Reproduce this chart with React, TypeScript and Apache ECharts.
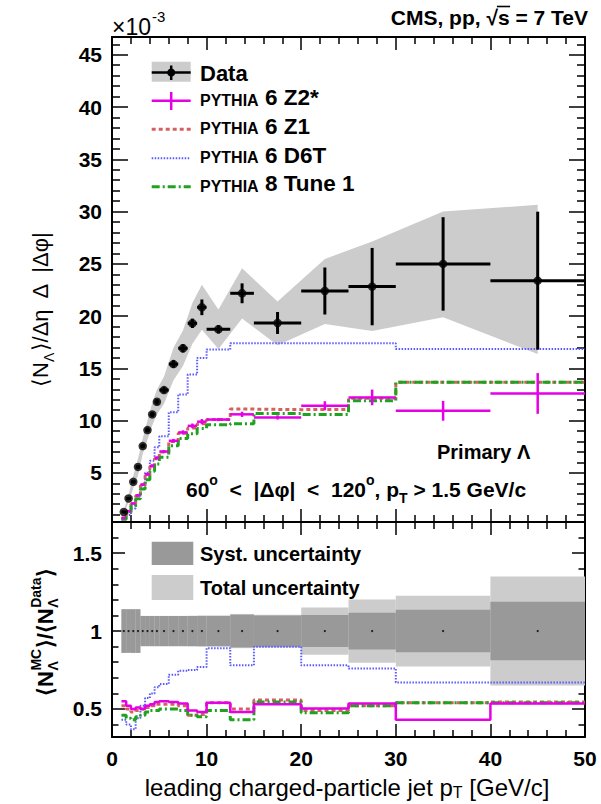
import React, { useEffect, useRef } from "react";
import * as echarts from "echarts";

// ---------- data ----------
const binLo = [1, 1.5, 2, 2.5, 3, 3.5, 4, 4.5, 5, 6, 7, 8, 9, 10, 12.5, 15, 20, 25, 30, 40];
const binHi = [1.5, 2, 2.5, 3, 3.5, 4, 4.5, 5, 6, 7, 8, 9, 10, 12.5, 15, 20, 25, 30, 40, 50];
const binCenter = [1.25, 1.75, 2.25, 2.75, 3.25, 3.75, 4.25, 4.75, 5.5, 6.5, 7.5, 8.5, 9.5, 11.25, 13.75, 17.5, 22.5, 27.5, 35, 45];

const dataVal = [1.26, 2.55, 4.14, 5.57, 7.56, 9.09, 10.59, 11.8, 12.92, 15.41, 16.92, 19.31, 20.84, 18.74, 22.18, 19.34, 22.4, 22.82, 24.99, 23.39];
const dataStat = [0.1, 0.12, 0.15, 0.18, 0.2, 0.22, 0.25, 0.27, 0.3, 0.35, 0.4, 0.45, 0.75, 0.4, 0.95, 1.05, 2.25, 3.7, 4.47, 6.6];
const bandUp = [1.44, 2.92, 4.74, 6.38, 8.32, 10.0, 11.65, 12.98, 14.22, 16.96, 18.62, 21.26, 22.99, 20.64, 24.58, 21.4, 25.47, 27.13, 30.0, 30.64];
const bandLo = [1.08, 2.18, 3.54, 4.76, 6.8, 8.18, 9.53, 10.62, 11.62, 13.86, 15.22, 17.36, 18.69, 16.84, 19.78, 17.2, 19.24, 18.57, 19.89, 16.37];

const z2Val = [0.69, 1.34, 2.07, 2.84, 3.88, 4.86, 5.67, 6.43, 7.04, 8.07, 8.87, 9.5, 9.9, 10.1, 10.6, 10.3, 11.42, 12.22, 10.94, 12.6];
const z2Err = [0.08, 0.1, 0.1, 0.12, 0.12, 0.14, 0.15, 0.15, 0.15, 0.18, 0.2, 0.22, 0.25, 0.15, 0.25, 0.2, 0.43, 0.75, 0.95, 1.95];
const z1Val = [0.66, 1.3, 2.03, 2.8, 3.8, 4.75, 5.6, 6.35, 7.0, 8.0, 8.8, 9.3, 9.7, 10.1, 11.1, 11.05, 11.07, 12.13, 13.66, 13.66];
const tune1Val = [0.57, 1.15, 1.8, 2.52, 3.45, 4.35, 5.15, 5.85, 6.5, 7.6, 8.3, 8.75, 9.25, 9.6, 9.7, 10.69, 10.59, 11.9, 13.66, 13.66];
const d6tVal = [0.53, 0.97, 1.6, 2.5, 3.8, 5.0, 6.15, 7.45, 8.5, 10.8, 12.5, 14.4, 16.0, 16.8, 17.39, 17.39, 17.39, 17.39, 16.85, 16.85];

const rZ2 = [0.55, 0.52, 0.5, 0.51, 0.5, 0.52, 0.53, 0.545, 0.55, 0.545, 0.535, 0.49, 0.48, 0.54, 0.48, 0.53, 0.503, 0.535, 0.43, 0.535];
const rZ1 = [0.52, 0.5, 0.48, 0.49, 0.5, 0.51, 0.52, 0.53, 0.53, 0.53, 0.52, 0.46, 0.465, 0.54, 0.5, 0.557, 0.49, 0.52, 0.54, 0.545];
const rTune1 = [0.46, 0.44, 0.43, 0.45, 0.46, 0.48, 0.49, 0.49, 0.5, 0.5, 0.49, 0.46, 0.45, 0.49, 0.43, 0.545, 0.475, 0.52, 0.54, 0.54];
const rD6T = [0.43, 0.4, 0.37, 0.44, 0.52, 0.57, 0.6, 0.64, 0.66, 0.72, 0.745, 0.75, 0.77, 0.89, 0.78, 0.9, 0.78, 0.76, 0.67, 0.67];
const ratioSyst = [0.14, 0.14, 0.14, 0.14, 0.097, 0.097, 0.097, 0.097, 0.097, 0.097, 0.097, 0.097, 0.097, 0.097, 0.105, 0.1, 0.103, 0.118, 0.136, 0.188];
const ratioTotal = [0.14, 0.14, 0.14, 0.14, 0.097, 0.097, 0.097, 0.097, 0.097, 0.097, 0.097, 0.098, 0.1, 0.1, 0.11, 0.105, 0.152, 0.203, 0.227, 0.35];

const xTicks = [0, 10, 20, 30, 40, 50];
const yTopMajor = [5, 10, 15, 20, 25, 30, 35, 40, 45];
const yTopMinor = [1, 2, 3, 4, 6, 7, 8, 9, 11, 12, 13, 14, 16, 17, 18, 19, 21, 22, 23, 24, 26, 27, 28, 29, 31, 32, 33, 34, 36, 37, 38, 39, 41, 42, 43, 44, 46];
const yLowMajor = [0.5, 1, 1.5];
const yLowMinor = [0.4, 0.6, 0.7, 0.8, 0.9, 1.1, 1.2, 1.3, 1.4, 1.6];

// ---------- styles ----------
const FONT = "'Liberation Sans', Arial, Helvetica, sans-serif";
const MAG = "#e600e6";
const RED = "#d66060";
const BLUE = "#5a5aff";
const GREEN = "#1fa31f";

const steps = (vals: number[]) => vals.flatMap((v, i) => [[binLo[i], v], [binHi[i], v]]);

const xAx = (grid: number, pos: string, labels: boolean) => ({
  type: "value", gridIndex: grid, position: pos, min: 0, max: 50, interval: 10,
  axisLine: { show: true, onZero: false, lineStyle: { color: "#000", width: 2 } },
  axisTick: { show: true, inside: true, length: 13, lineStyle: { color: "#000", width: 1.5 } },
  minorTick: { show: true, splitNumber: 5, length: 7, lineStyle: { color: "#000", width: 1.5 } },
  splitLine: { show: false }, minorSplitLine: { show: false },
  axisLabel: labels
    ? { show: true, margin: 11, fontSize: 21, fontWeight: "bold", color: "#000", fontFamily: FONT, customValues: xTicks }
    : { show: false },
});

const yAx = (grid: number, pos: string, min: number, max: number, ticks: number[], len: number, labels: boolean, line: boolean) => ({
  type: "value", gridIndex: grid, position: pos, min, max,
  axisLine: { show: line, onZero: false, lineStyle: { color: "#000", width: 2 } },
  axisTick: { show: true, inside: true, length: len, customValues: ticks, lineStyle: { color: "#000", width: 1.5 } },
  axisLabel: labels
    ? { show: true, customValues: ticks, margin: 10, fontSize: 21, fontWeight: "bold", color: "#000", fontFamily: FONT }
    : { show: false },
  splitLine: { show: false },
});

const errRender = (color: string, width: number) => (params: any, api: any) => {
  const y = api.value(1);
  const a = api.coord([api.value(2), y]);
  const b = api.coord([api.value(3), y]);
  const t = api.coord([api.value(0), api.value(5)]);
  const d = api.coord([api.value(0), api.value(4)]);
  return {
    type: "group",
    children: [
      { type: "line", shape: { x1: a[0], y1: a[1], x2: b[0], y2: b[1] }, style: { stroke: color, lineWidth: width } },
      { type: "line", shape: { x1: t[0], y1: t[1], x2: d[0], y2: d[1] }, style: { stroke: color, lineWidth: width } },
    ],
  };
};

const rectRender = (color: string) => (params: any, api: any) => {
  const a = api.coord([api.value(0), api.value(3)]);
  const b = api.coord([api.value(1), api.value(2)]);
  return { type: "rect", shape: { x: a[0], y: a[1], width: b[0] - a[0], height: b[1] - a[1] }, style: { fill: color } };
};

const stepLine = (vals: number[], color: string, width: number, dash: any, xi: number, yi: number, z: number) => ({
  type: "line", xAxisIndex: xi, yAxisIndex: yi, data: steps(vals), showSymbol: false, symbol: "none",
  lineStyle: { color, width, type: dash }, z, silent: true, clip: true,
});

const richBase = (size: number, weight: string, lh = 32) => ({
  m: { fontSize: size, fontWeight: weight, fontFamily: FONT, lineHeight: lh, verticalAlign: "middle", color: "#000" },
  sub: { fontSize: Math.round(size * 0.65), fontWeight: weight, fontFamily: FONT, lineHeight: 14, verticalAlign: "bottom", color: "#000" },
  sup: { fontSize: Math.round(size * 0.65), fontWeight: weight, fontFamily: FONT, lineHeight: 14, verticalAlign: "top", color: "#000" },
});

const txt = (x: number, y: number, text: string, size: number, weight: string, align = "left", extra: any = {}) => ({
  type: "text", x, y, silent: true,
  style: { text, fontSize: size, fontWeight: weight, fontFamily: FONT, fill: "#000", align, verticalAlign: "middle", ...extra },
});

const line = (x1: number, y1: number, x2: number, y2: number, stroke: string, lineWidth: number, lineDash?: number[]) => ({
  type: "line", silent: true, shape: { x1, y1, x2, y2 }, style: { stroke, lineWidth, lineDash },
});

function buildGraphics() {
  const ctx = document.createElement("canvas").getContext("2d") as CanvasRenderingContext2D;
  const measure = (t: string, size: number, weight: string) => {
    ctx.font = `${weight} ${size}px ${FONT}`;
    return ctx.measureText(t).width;
  };

  // overline for sqrt(s)
  const tailW = measure(" = 7 TeV", 21, "bold");
  const sW = measure("s", 21, "bold");
  const sEnd = 588 - tailW;
  const sStart = sEnd - sW;

  // ratio title with stacked super/subscripts
  const BIG = 22, SMALL = 14;
  const parts: any[] = [
    { t: "⟨N" },
    { sup: "MC", sub: "Λ" },
    { t: "⟩/⟨N" },
    { sup: "Data", sub: "Λ" },
    { t: "⟩" },
  ];
  const widths = parts.map((p) =>
    p.t ? measure(p.t, BIG, "bold") : Math.max(measure(p.sup, SMALL, "bold"), measure(p.sub, SMALL, "bold")) + 1
  );
  const total = widths.reduce((a, b) => a + b, 0);
  let cx = -total / 2;
  const kids: any[] = [];
  parts.forEach((p, i) => {
    if (p.t) {
      kids.push(txt(cx, 0, p.t, BIG, "bold"));
    } else {
      kids.push(txt(cx + 0.5, -9, p.sup, SMALL, "bold"));
      kids.push(txt(cx + 0.5, 8, p.sub, SMALL, "bold"));
    }
    cx += widths[i];
  });

  const legendRows = [
    { y: 100.7, num: "6 Z2*" },
    { y: 129.3, num: "6 Z1" },
    { y: 158.3, num: "6 D6T" },
    { y: 186.7, num: "8 Tune 1" },
  ];
  const legendTexts: any[] = [];
  legendRows.forEach((r) => {
    legendTexts.push(txt(200, r.y + 7.3, "PYTHIA", 16, "bold", "left", { verticalAlign: "bottom" }));
    legendTexts.push(txt(265, r.y + 8.3, r.num, 22.5, "bold", "left", { verticalAlign: "bottom" }));
  });

  return [
    // header
    txt(112, 27, "×10", 23, "normal"),
    txt(152, 16, "-3", 15, "normal"),
    txt(588, 17.5, "CMS, pp, √s = 7 TeV", 21, "bold", "right"),
    line(sStart - 1, 6.5, sEnd + 0.5, 6.5, "#000", 1.6),
    // legend top
    { type: "rect", silent: true, shape: { x: 151.7, y: 61.7, width: 39, height: 20 }, style: { fill: "#cccccc" } },
    line(151.7, 72.5, 190.7, 72.5, "#000", 2.5),
    line(171.2, 65.5, 171.2, 80, "#000", 2.5),
    { type: "circle", silent: true, shape: { cx: 171.2, cy: 72.5, r: 4 }, style: { fill: "#000" } },
    txt(200, 73, "Data", 22, "bold"),
    line(151.7, 100.7, 190.7, 100.7, MAG, 2.5),
    line(171.2, 92, 171.2, 110, MAG, 2.5),
    line(151.7, 129.3, 190.7, 129.3, RED, 3, [4, 3]),
    line(151.7, 158.3, 190.7, 158.3, BLUE, 2, [1.5, 1.5]),
    line(151.7, 186.7, 190.7, 186.7, GREEN, 3, [8, 3, 2, 3]),
    ...legendTexts,
    // annotations
    txt(437, 452, "Primary Λ", 20, "bold"),
    txt(186, 489, "{m|60}{sup|o}{m|  <  |Δφ|  <  120}{sup|o}{m|, p}{sub|T}{m| > 1.5 GeV/c}", 21, "bold", "left", { rich: richBase(21, "bold") }),
    // lower legend
    { type: "rect", silent: true, shape: { x: 151.7, y: 541.7, width: 41.6, height: 23.3 }, style: { fill: "#999999" } },
    txt(200, 553.5, "Syst. uncertainty", 20, "bold"),
    { type: "rect", silent: true, shape: { x: 151.7, y: 575, width: 41.6, height: 25 }, style: { fill: "#cccccc" } },
    txt(200, 587.5, "Total uncertainty", 20, "bold"),
    // axis titles
    txt(347, 787, "{m|leading charged-particle jet p}{sub|T}{m| [GeV/c]}", 24, "normal", "center", { rich: richBase(24, "normal", 26) }),
    { ...txt(40, 309, "{m|⟨N}{sub|Λ}{m|⟩/Δη  Δ  |Δφ|}", 22, "normal", "center", { rich: richBase(22, "normal") }), rotation: Math.PI / 2 },
    { type: "group", x: 45, y: 632, rotation: Math.PI / 2, silent: true, children: kids },
  ];
}

function buildOption(): any {
  return {
    animation: false,
    backgroundColor: "#ffffff",
    grid: [
      { left: 112, top: 37, width: 473, height: 485 },
      { left: 112, top: 522, width: 473, height: 215 },
    ],
    xAxis: [xAx(0, "bottom", false), xAx(0, "top", false), xAx(1, "bottom", true), xAx(1, "top", false)],
    yAxis: [
      yAx(0, "left", 0.3, 46.7, yTopMajor, 16, true, true),
      yAx(0, "left", 0.3, 46.7, yTopMinor, 8, false, false),
      yAx(0, "right", 0.3, 46.7, yTopMajor, 16, false, true),
      yAx(0, "right", 0.3, 46.7, yTopMinor, 8, false, false),
      yAx(1, "left", 0.32, 1.7, yLowMajor, 13, true, true),
      yAx(1, "left", 0.32, 1.7, yLowMinor, 6.5, false, false),
      yAx(1, "right", 0.32, 1.7, yLowMajor, 13, false, true),
      yAx(1, "right", 0.32, 1.7, yLowMinor, 6.5, false, false),
    ],
    graphic: buildGraphics(),
    series: [
      {
        type: "custom", xAxisIndex: 0, yAxisIndex: 0, silent: true, z: 1, clip: true,
        data: [[binCenter[0], bandLo[0]]], encode: { x: 0, y: 1 },
        renderItem: (params: any, api: any) => {
          const pts: number[][] = [];
          binCenter.forEach((c, i) => pts.push(api.coord([c, bandUp[i]])));
          for (let i = binCenter.length - 1; i >= 0; i--) pts.push(api.coord([binCenter[i], bandLo[i]]));
          return { type: "polygon", shape: { points: pts }, style: { fill: "#cccccc" } };
        },
      },
      stepLine(d6tVal, BLUE, 2, [1.5, 1.5], 0, 0, 3),
      stepLine(z1Val, RED, 3, [4, 3], 0, 0, 3),
      stepLine(tune1Val, GREEN, 3, [8, 3, 2, 3], 0, 0, 4),
      {
        type: "custom", xAxisIndex: 0, yAxisIndex: 0, silent: true, z: 5, clip: true,
        data: binCenter.map((c, i) => [c, z2Val[i], binLo[i], binHi[i], z2Val[i] - z2Err[i], z2Val[i] + z2Err[i]]),
        encode: { x: [0, 2, 3], y: [1, 4, 5] },
        renderItem: errRender(MAG, 2.5),
      },
      {
        type: "custom", xAxisIndex: 0, yAxisIndex: 0, silent: true, z: 6, clip: true,
        data: binCenter.map((c, i) => [c, dataVal[i], binLo[i], binHi[i], dataVal[i] - dataStat[i], dataVal[i] + dataStat[i]]),
        encode: { x: [0, 2, 3], y: [1, 4, 5] },
        renderItem: errRender("#000", 3),
      },
      {
        type: "scatter", xAxisIndex: 0, yAxisIndex: 0, silent: true, z: 7,
        data: binCenter.map((c, i) => [c, dataVal[i]]), symbol: "circle", symbolSize: 8.5,
        itemStyle: { color: "#000" },
      },
      // lower panel
      {
        type: "custom", xAxisIndex: 2, yAxisIndex: 4, silent: true, z: 1, clip: true,
        data: binLo.map((lo, i) => [lo, binHi[i], 1 - ratioTotal[i], 1 + ratioTotal[i]]),
        encode: { x: [0, 1], y: [2, 3] },
        renderItem: rectRender("#cccccc"),
      },
      {
        type: "custom", xAxisIndex: 2, yAxisIndex: 4, silent: true, z: 2, clip: true,
        data: binLo.map((lo, i) => [lo, binHi[i], 1 - ratioSyst[i], 1 + ratioSyst[i]]),
        encode: { x: [0, 1], y: [2, 3] },
        renderItem: rectRender("#999999"),
      },
      stepLine(rD6T, BLUE, 2, [1.5, 1.5], 2, 4, 3),
      stepLine(rZ1, RED, 3, [4, 3], 2, 4, 3),
      stepLine(rTune1, GREEN, 3, [8, 3, 2, 3], 2, 4, 4),
      stepLine(rZ2, MAG, 2.5, "solid", 2, 4, 5),
      {
        type: "scatter", xAxisIndex: 2, yAxisIndex: 4, silent: true, z: 6,
        data: binCenter.map((c) => [c, 1]), symbol: "circle", symbolSize: 2.2,
        itemStyle: { color: "#000" },
      },
    ],
  };
}

export default function App() {
  const ref = useRef<HTMLDivElement>(null);
  useEffect(() => {
    const chart = echarts.init(ref.current as HTMLDivElement, null, { renderer: "svg" });
    chart.setOption(buildOption());
    return () => chart.dispose();
  }, []);
  return (
    <div
      ref={ref}
      style={{ position: "absolute", left: 0, top: 0, width: 601, height: 804, background: "#fff" }}
    />
  );
}
